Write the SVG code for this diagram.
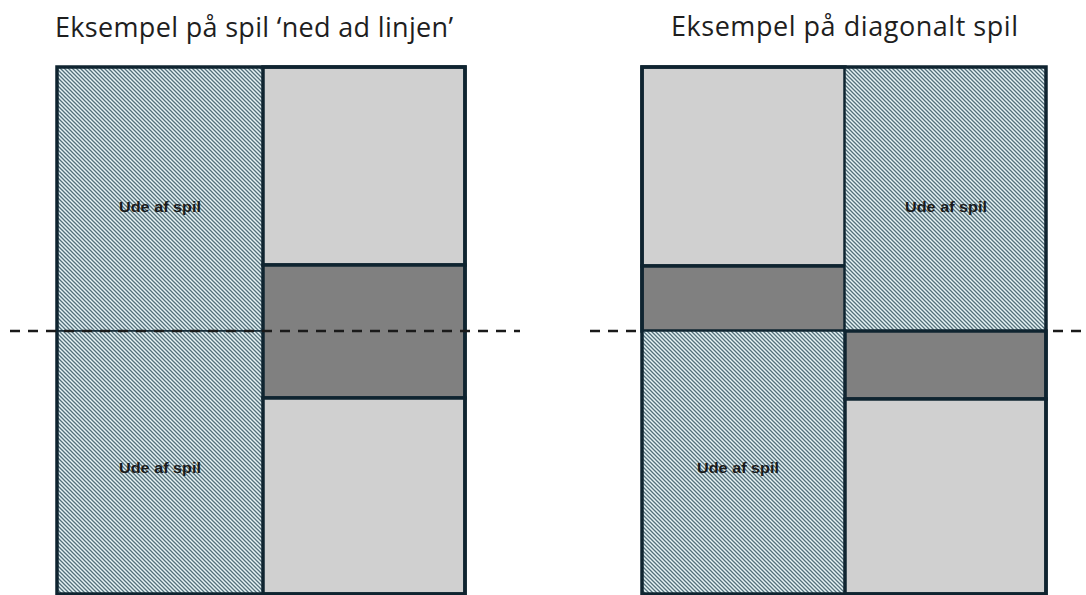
<svg xmlns="http://www.w3.org/2000/svg" width="1086" height="595" viewBox="0 0 1086 595">
  <defs>
    <!-- diagonal hatch for zones that are out of play -->
    <pattern id="hatch" patternUnits="userSpaceOnUse" width="4" height="4">
      <rect width="4" height="4" fill="#e6f3f5"/>
      <path d="M-1,-1 L5,5 M-1,3 L1,5 M3,-1 L5,1" stroke="#54707b" stroke-width="1.3"/>
    </pattern>
    <style>
      .title { font-family: "Open Sans", "Liberation Sans", sans-serif; font-size: 27px; fill: #1e1e1e; }
      .out { fill: url(#hatch); stroke: #0f2430; stroke-width: 1.5; }
      .light { fill: #d0d0d0; stroke: #0f2430; stroke-width: 3.5; }
      .dark { fill: #808080; stroke: #0f2430; stroke-width: 3.5; }
      .frame { fill: none; stroke: #0f2430; stroke-width: 3.5; }
      .label { font-family: "Liberation Sans", Arial, sans-serif; font-weight: bold; font-size: 15px; fill: #1a1a1a; text-anchor: middle; }
      .line { stroke: #1a1a1a; stroke-width: 2.5; stroke-dasharray: 10 8; fill: none; }
    </style>
  </defs>

  <rect width="1086" height="595" fill="#ffffff"/>

  <!-- headings -->
  <text class="title" x="55" y="37" textLength="398" lengthAdjust="spacing">Eksempel på spil ‘ned ad linjen’</text>
  <text class="title" x="671" y="36" textLength="347" lengthAdjust="spacing">Eksempel på diagonalt spil</text>

  <!-- left court: play down the line -->
  <g id="left-out-top">
    <rect class="out" x="57" y="67" width="206" height="264"/>
    <text class="label" x="160" y="212" textLength="82" lengthAdjust="spacingAndGlyphs">Ude af spil</text>
  </g>
  <g id="left-out-bottom">
    <rect class="out" x="57" y="331" width="206" height="263"/>
    <text class="label" x="160" y="473" textLength="82" lengthAdjust="spacingAndGlyphs">Ude af spil</text>
  </g>
  <g id="left-court-top">
    <rect class="light" x="263" y="67" width="202" height="198"/>
  </g>
  <g id="left-zone">
    <rect class="dark" x="263" y="265" width="202" height="133"/>
  </g>
  <g id="left-court-bottom">
    <rect class="light" x="263" y="398" width="202" height="196"/>
  </g>
  <g id="left-frame">
    <rect class="frame" x="57" y="67" width="408" height="527"/>
  </g>

  <!-- right court: diagonal play -->
  <g id="right-court-top">
    <rect class="light" x="642" y="67" width="203" height="199"/>
  </g>
  <g id="right-zone-left">
    <rect class="dark" x="642" y="266" width="203" height="65"/>
  </g>
  <g id="right-out-bottom">
    <rect class="out" x="642" y="331" width="203" height="263"/>
    <text class="label" x="738" y="473" textLength="82" lengthAdjust="spacingAndGlyphs">Ude af spil</text>
  </g>
  <g id="right-out-top">
    <rect class="out" x="845" y="67" width="201" height="264"/>
    <text class="label" x="946" y="212" textLength="82" lengthAdjust="spacingAndGlyphs">Ude af spil</text>
  </g>
  <g id="right-zone-right">
    <rect class="dark" x="845" y="331" width="201" height="68"/>
  </g>
  <g id="right-court-bottom">
    <rect class="light" x="845" y="399" width="201" height="195"/>
  </g>
  <g id="right-frame">
    <rect class="frame" x="642" y="67" width="404" height="527"/>
  </g>

  <!-- centre lines -->
  <g id="connectors">
    <line class="line" x1="10" y1="331" x2="520" y2="331"/>
    <line class="line" x1="590" y1="331" x2="640" y2="331"/>
    <line class="line" x1="1053" y1="331" x2="1086" y2="331"/>
  </g>
</svg>
